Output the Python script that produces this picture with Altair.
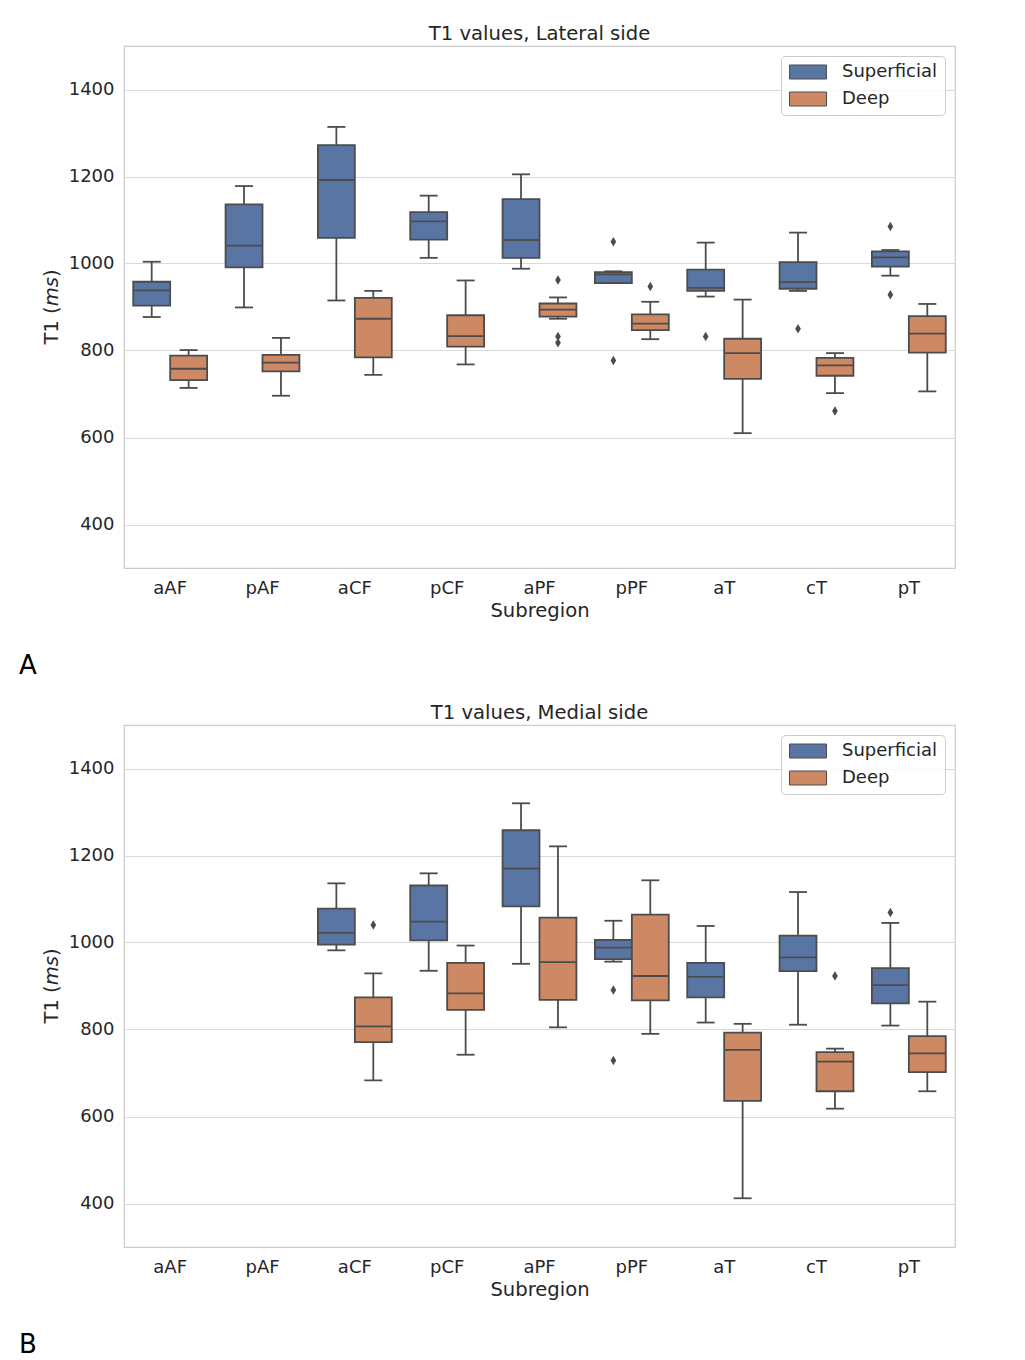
import altair as alt
import pandas as pd

SUBREGIONS = ["aAF", "pAF", "aCF", "pCF", "aPF", "pPF", "aT", "cT", "pT"]
LAYERS = ["Superficial", "Deep"]

# (lower whisker, Q1, median, Q3, upper whisker) per subregion
LAT_SUP = [(877, 903, 938, 958, 1004), (899, 991, 1041, 1136, 1178), (915, 1059, 1192, 1272, 1314),
           (1013, 1055, 1097, 1118, 1156), (988, 1013, 1054, 1148, 1205), (955, 955, 975, 980, 982),
           (924, 937, 944, 986, 1048), (937, 942, 957, 1003, 1071), (972, 993, 1014, 1028, 1031)]
LAT_DEEP = [(714, 732, 758, 788, 801), (696, 752, 772, 790, 829), (744, 784, 873, 921, 937),
            (768, 809, 833, 881, 961), (873, 878, 894, 908, 922), (826, 847, 862, 883, 912),
            (610, 735, 794, 827, 917), (702, 742, 766, 783, 794), (706, 795, 839, 879, 907)]
LAT_OUT_SUBREGION = ["pPF", "pPF", "aT", "cT", "pT", "pT", "aPF", "aPF", "aPF", "pPF", "cT"]
LAT_OUT_LAYER = ["Superficial"] * 6 + ["Deep"] * 5
LAT_OUT_VALUE = [1050, 777, 832, 850, 1085, 928, 962, 832, 818, 947, 661]

MED_SUP = [None, None, (982, 995, 1022, 1078, 1136), (935, 1005, 1048, 1131, 1159),
           (951, 1083, 1170, 1258, 1320), (956, 962, 988, 1006, 1050), (816, 874, 921, 953, 1038),
           (811, 934, 966, 1016, 1116), (809, 860, 902, 941, 1045)]
MED_DEEP = [None, None, (683, 771, 807, 874, 929), (742, 845, 883, 953, 993),
            (805, 868, 955, 1057, 1221), (790, 867, 923, 1064, 1143), (412, 636, 753, 793, 813),
            (618, 658, 726, 748, 756), (658, 702, 745, 785, 864)]
MED_OUT_SUBREGION = ["pPF", "pPF", "pT", "aCF", "cT"]
MED_OUT_LAYER = ["Superficial", "Superficial", "Superficial", "Deep", "Deep"]
MED_OUT_VALUE = [891, 729, 1069, 1040, 923]

Y_TICKS = [400, 600, 800, 1000, 1200, 1400]

GRAY = "#4c4c4c"
TEXT = "#262626"
COLORS = ["#5975a4", "#cc8963"]
DIAMOND = "M0,-1L0.6,0L0,1L-0.6,0Z"
PATCH = "M-2.64,-1H2.64V1H-2.64Z"
FONT = "DejaVu Sans"
W, H = 831, 522


def box_frame(sup, deep):
    rows = []
    for layer, stats in (("Superficial", sup), ("Deep", deep)):
        for sub, s in zip(SUBREGIONS, stats):
            if s is None:
                continue
            lo, q1, med, q3, hi = s
            rows.append(dict(sub=sub, layer=layer, lo=lo, q1=q1, med=med, q3=q3, hi=hi))
    return pd.DataFrame(rows)


def panel(title, sup, deep, out_sub, out_layer, out_val, letter):
    df = box_frame(sup, deep)
    out = pd.DataFrame({"sub": out_sub, "layer": out_layer, "val": out_val})
    X = alt.X("sub:N", scale=alt.Scale(domain=SUBREGIONS, paddingInner=0, paddingOuter=0),
              axis=alt.Axis(title="Subregion"))
    XO = alt.XOffset("layer:N", scale=alt.Scale(domain=LAYERS, paddingInner=0, paddingOuter=0.25))
    ysc = alt.Scale(domain=[300, 1500], nice=False, zero=False)

    def Y(f):
        return alt.Y(f, scale=ysc, axis=alt.Axis(title=None, values=Y_TICKS, format="d"))

    base = alt.Chart(df)
    w_lo = base.mark_rule(color=GRAY, strokeWidth=1.8).encode(x=X, xOffset=XO, y=Y("lo:Q"), y2="q1:Q")
    w_hi = base.mark_rule(color=GRAY, strokeWidth=1.8).encode(x=X, xOffset=XO, y=Y("q3:Q"), y2="hi:Q")
    boxes = base.mark_bar(stroke=GRAY, strokeWidth=1.8).encode(
        x=X, xOffset=XO, y=Y("q1:Q"), y2="q3:Q",
        color=alt.Color("layer:N", scale=alt.Scale(domain=LAYERS, range=COLORS),
                        legend=alt.Legend(title=None, orient="top-right")))
    med = base.mark_tick(color=GRAY, size=36, thickness=1.8, opacity=1).encode(x=X, xOffset=XO, y=Y("med:Q"))
    c_lo = base.mark_tick(color=GRAY, size=18, thickness=1.8, opacity=1).encode(x=X, xOffset=XO, y=Y("lo:Q"))
    c_hi = base.mark_tick(color=GRAY, size=18, thickness=1.8, opacity=1).encode(x=X, xOffset=XO, y=Y("hi:Q"))
    pts = alt.Chart(out).mark_point(shape=DIAMOND, filled=True, size=90, color=GRAY, opacity=1).encode(
        x=X, xOffset=XO, y=Y("val:Q"))

    one = pd.DataFrame({"k": [0]})
    fs = 19.6
    t_a = alt.Chart(one).mark_text(text="T1 (", angle=270, align="left", baseline="middle",
                                   fontSize=fs, color=TEXT, font=FONT).encode(
        x=alt.value(-72), y=alt.value(H / 2 + 37.6))
    t_b = alt.Chart(one).mark_text(text="ms", angle=270, align="left", baseline="middle",
                                   fontSize=fs, fontStyle="italic", color=TEXT, font=FONT).encode(
        x=alt.value(-72), y=alt.value(H / 2 + 37.6 - 38.3))
    t_c = alt.Chart(one).mark_text(text=")", angle=270, align="left", baseline="middle",
                                   fontSize=fs, color=TEXT, font=FONT).encode(
        x=alt.value(-72), y=alt.value(H / 2 + 37.6 - 38.3 - 29.3))
    lab = alt.Chart(one).mark_text(text=letter, align="left", baseline="middle",
                                   fontSize=26, color="#000000", font=FONT).encode(
        x=alt.value(-105), y=alt.value(620))

    return alt.layer(w_lo, w_hi, boxes, med, c_lo, c_hi, pts, t_a, t_b, t_c, lab).properties(
        width=W, height=H, title=title)


top = panel("T1 values, Lateral side", LAT_SUP, LAT_DEEP, LAT_OUT_SUBREGION, LAT_OUT_LAYER, LAT_OUT_VALUE, "A")
bottom = panel("T1 values, Medial side", MED_SUP, MED_DEEP, MED_OUT_SUBREGION, MED_OUT_LAYER, MED_OUT_VALUE, "B")

chart = alt.vconcat(top, bottom, spacing=157, bounds="flush").resolve_scale(
    color="independent").resolve_legend(color="independent").properties(
    padding={"left": 10, "top": 15, "right": 10, "bottom": 10}, background="white"
).configure(font=FONT).configure_view(
    stroke="#cccccc", strokeWidth=1.25
).configure_axis(
    labelFont=FONT, labelFontSize=18, labelColor=TEXT, titleFont=FONT, titleFontSize=19.6,
    titleColor=TEXT, titleFontWeight="normal", ticks=False, domain=False,
    gridColor="#d9d9d9", gridWidth=1.2
).configure_axisX(
    grid=False, labelPadding=11, titlePadding=4, labelAngle=0
).configure_axisY(
    grid=True, labelPadding=10
).configure_legend(
    labelFont=FONT, labelFontSize=18, labelColor=TEXT, offset=10, padding=7,
    fillColor="rgba(255,255,255,0.8)", strokeColor="#cccccc", cornerRadius=4,
    symbolType=PATCH, symbolSize=196, symbolStrokeColor=GRAY, symbolStrokeWidth=1,
    symbolOpacity=1, symbolOffset=11, rowPadding=9, labelOffset=25
).configure_title(
    font=FONT, fontSize=19.6, fontWeight="normal", color=TEXT, offset=1, anchor="middle"
)

chart.save("out.html", embed_options={"renderer": "svg", "actions": False})
